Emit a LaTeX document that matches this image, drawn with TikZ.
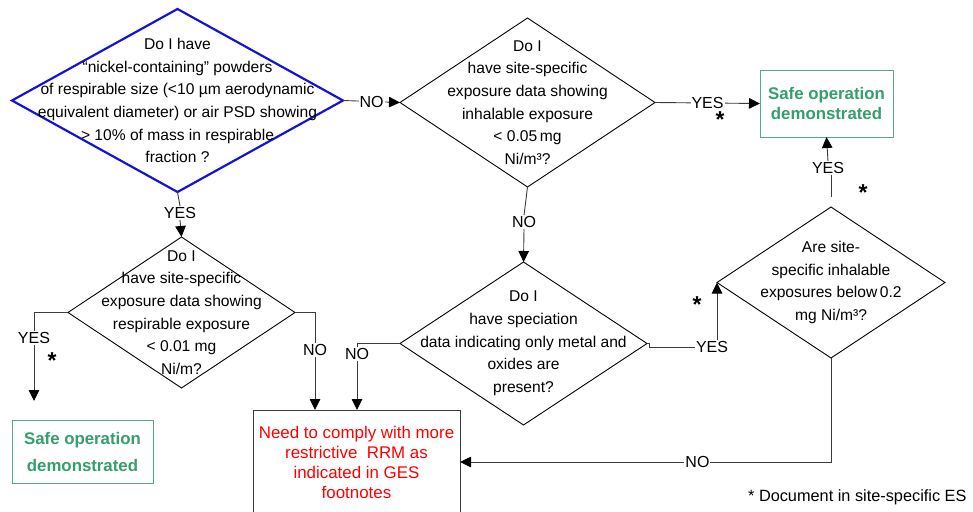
\documentclass[tikz,border=0pt]{standalone}
\usepackage{fontspec}
\setmainfont{Liberation Sans}
\usetikzlibrary{arrows.meta}
\usetikzlibrary{shapes.geometric}
\usetikzlibrary{positioning}
\definecolor{qblue}{RGB}{20,20,215}
\definecolor{safegreen}{RGB}{52,158,108}
\definecolor{linegray}{RGB}{60,60,60}
\tikzset{question/.style = {diamond, draw, line width = 0.9, inner sep = 0, outer sep = 0}}
\tikzset{ask/.style = {align = center, inner sep = 0, font = \fontsize{15.6}{22.7}\selectfont}}
\tikzset{answer/.style = {fill = white, inner sep = 1, font = \fontsize{16}{18}\selectfont}}
\tikzset{conn/.style = {draw = linegray, line width = 0.9}}
\tikzset{arr/.style = {conn, -{Triangle[length = 11pt, width = 10.5pt, color = black]}}}
\tikzset{safe/.style = {draw = safegreen!85, line width = 0.9, text = safegreen, align = center,
                        inner sep = 0, outer sep = 0}}
\tikzset{star/.style = {inner sep = 0, font = \bfseries\fontsize{23}{23}\selectfont}}

\begin{document}
\begin{tikzpicture}[x = 1pt, y = -1pt]
      \useasboundingbox (0, 0) rectangle (973, 511);

      % questions
      \node [question, draw = qblue, line width = 2.2, minimum width = 331, minimum height = 183]
            (haspowder) at (177.5, 100.5) {};
      \node [ask] (haspowdertext) at (haspowder) {Do I have\\“nickel-containing” powders\\of respirable size (<10 µm aerodynamic\\equivalent diameter) or air PSD showing\\> 10\% of mass in respirable\\fraction ?};
      \node [question, minimum width = 255, minimum height = 169] (inhalable) at (527.5, 102.5) {};
      \node [ask] (inhalabletext) at (inhalable) {Do I\\have site-specific\\exposure data showing\\inhalable exposure\\< 0.05\,mg\\Ni/m³?};
      \node [question, minimum width = 247, minimum height = 163] (speciation) at (523.5, 343.5) {};
      \node [ask] (speciationtext) at (speciation) {Do I\\have speciation\\data indicating only metal and\\oxides are\\present?};
      \node [question, minimum width = 228, minimum height = 151] (below) at (831, 282.5) {};
      \node [ask] (belowtext) at (below) {Are site-\\specific inhalable\\exposures below\,0.2\\mg Ni/m³?};
      \node [question, minimum width = 227, minimum height = 151] (respirable) at (181.5, 312.5) {};
      \node [ask] (respirabletext) at (respirable) {Do I\\have site-specific\\exposure data showing\\respirable exposure\\< 0.01 mg\\Ni/m?};

      % outcomes
      \node [safe, minimum width = 133, minimum height = 67, font = \bfseries\fontsize{16.8}{19.5}\selectfont]
            (safetop) at (826.5, 103.5) {Safe operation\\demonstrated};
      \node [safe, minimum width = 141, minimum height = 63, font = \bfseries\fontsize{16.8}{27}\selectfont]
            (safeleft) at (82.5, 451.5) {Safe operation\\demonstrated};
      \node [draw = linegray, line width = 0.9, minimum width = 207, minimum height = 104, inner sep = 0,
             outer sep = 0, align = center, text = red, font = \fontsize{16.9}{20}\selectfont]
            (rrm) at (356.5, 462) {Need to comply with more\\restrictive~ RRM as\\indicated in GES\\footnotes};

      % answer labels
      \node [answer] (yesA) at (180, 213) {YES};
      \node [answer] (noB) at (524, 222) {NO};
      \node [answer] (yesC) at (34, 338) {YES};
      \node [answer] (noC) at (315, 350) {NO};
      \node [answer] (noD) at (357, 354) {NO};
      \node [answer] (yesD) at (712, 347) {YES};
      \node [answer] (yesE) at (828, 168) {YES};
      \coordinate (leftend) at (34, 401);

      % connectors
      \draw [arr] (haspowder.east) -- node [answer] {NO} (inhalable.west);
      \draw [arr] (inhalable.east) -- node [answer] {YES} (safetop.west);
      \draw [conn] (inhalable.south) -- (noB.north);
      \draw [arr] (noB.south) -- (speciation.north);
      \draw [conn] (haspowder.south) -- (yesA.north);
      \draw [arr] (yesA.south) -- (respirable.north);
      \draw [conn] (respirable.west) -| (yesC.north);
      \draw [arr] (yesC.south) -- (leftend);
      \draw [conn] (respirable.east) -| (noC.north);
      \draw [arr] (noC.south) -- (noC.south |- rrm.north);
      \draw [conn] (speciation.west) -| (noD.north);
      \draw [arr] (noD.south) -- (noD.south |- rrm.north);
      \draw [conn] (speciation.east) -- ++(2, 0) |- (yesD.west);
      \draw [arr] (yesD.north -| below.west) -- (below.west);
      \draw [conn, shorten <= 10] (below.north) -- (yesE.south -| below.north);
      \draw [arr] (yesE.north) -- (safetop.south);
      \draw [arr] (below.south) |- node [answer, pos = 0.68] {NO} (rrm.east);

      % footnote marks
      \node [star] (starA) at (720, 120) {*};
      \node [star] (starB) at (863, 193) {*};
      \node [star] (starC) at (697, 305) {*};
      \node [star] (starD) at (52, 361) {*};
      \node [anchor = east, font = \fontsize{16.3}{18}\selectfont] (footnote) at (970, 497)
            {* Document in site-specific ES};
    \end{tikzpicture}
\end{document}
